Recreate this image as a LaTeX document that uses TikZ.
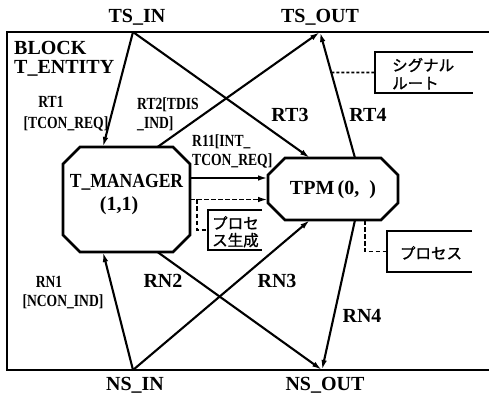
\documentclass[tikz,border=0pt]{standalone}
\usepackage{fontspec}
\setmainfont{Liberation Serif}
\newfontfamily\jp[FakeBold=1.2]{Noto Sans CJK JP}
\newfontfamily\condS[FakeStretch=0.8]{Liberation Serif}
\newfontfamily\condB[FakeStretch=0.88]{Liberation Serif}
\usetikzlibrary{arrows.meta,calc}
\begin{document}
\begin{tikzpicture}[x=1pt,y=-1pt,
  big/.style={font=\bfseries\fontsize{20}{22}\selectfont, inner sep=0pt},
  bigc/.style={font=\condB\bfseries\fontsize{20}{22}\selectfont, inner sep=0pt},
  small/.style={font=\condS\bfseries\fontsize{17}{19}\selectfont, inner sep=0pt},
  jtext/.style={font=\jp\fontsize{15.5}{18}\selectfont, inner sep=0pt},
  conn/.style={line width=2.1pt, -{Latex[length=10pt,width=5.5pt]}},
  frameline/.style={line width=1.5pt},
  oct/.style={line width=2.6pt, line join=miter},
  bracket/.style={line width=2.4pt},
  cdash/.style={line width=1.9pt, dash pattern=on 4.5pt off 2.5pt},
  dotline/.style={line width=1.8pt, dash pattern=on 3pt off 2pt},
  area/.style={inner sep=0pt, outer sep=0pt},
]
\useasboundingbox (0,0) rectangle (489,395);
\fill[white] (0,0) rectangle (489,395);

% block frame (open at the right)
\draw[frameline] (489,32) -- (7,32) -- (7,370) -- (489,370);

% gate points
\coordinate (tsin) at (133,32);
\coordinate (tsout) at (320,32);
\coordinate (nsin) at (133,370);
\coordinate (nsout) at (322,370);

% gate labels
\node[big, anchor=base] (tsinL) at (137,23) {TS\_IN};
\node[big, anchor=base] (tsoutL) at (320,23) {TS\_OUT};
\node[big, anchor=base] (nsinL) at (135,390) {NS\_IN};
\node[big, anchor=base] (nsoutL) at (325,390) {NS\_OUT};

% block title
\node[big, anchor=base west] (blk1) at (14,55) {BLOCK};
\node[big, anchor=base west] (blk2) at (14,74) {T\_ENTITY};

% T_MANAGER process
\node[area, minimum width=127pt, minimum height=105pt] (tm) at (126.5,199.5) {};
\draw[oct] ($(tm.north west)+(17,0)$) -- ($(tm.north east)+(-17,0)$) -- ($(tm.north east)+(0,17)$) -- ($(tm.south east)+(0,-17)$) -- ($(tm.south east)+(-17,0)$) -- ($(tm.south west)+(17,0)$) -- ($(tm.south west)+(0,-17)$) -- ($(tm.north west)+(0,17)$) -- cycle;
\node[bigc, anchor=base] (tmT) at (126.5,188) {T\_MANAGER};
\node[big, anchor=base] (tmN) at (119,211) {(1,1)};

% TPM process
\node[area, minimum width=130pt, minimum height=62pt] (tpm) at (333,189) {};
\draw[oct] ($(tpm.north west)+(17,0)$) -- ($(tpm.north east)+(-17,0)$) -- ($(tpm.north east)+(0,17)$) -- ($(tpm.south east)+(0,-17)$) -- ($(tpm.south east)+(-17,0)$) -- ($(tpm.south west)+(17,0)$) -- ($(tpm.south west)+(0,-17)$) -- ($(tpm.north west)+(0,17)$) -- cycle;
\node[big, anchor=base] (tpmT) at (333,195) {TPM\,(0,\hspace{10pt})};

% connection points
\coordinate (tmN1) at ($(tm.north)+(-23.5,0)$);
\coordinate (tmN2) at ($(tm.north)+(31,0)$);
\coordinate (tmS1) at ($(tm.south)+(-23.5,0)$);
\coordinate (tmS2) at ($(tm.south)+(31,0)$);
\coordinate (tmE1) at ($(tm.east)+(0,-21.5)$);
\coordinate (tpmN1) at ($(tpm.north)+(-23,0)$);
\coordinate (tpmN2) at ($(tpm.north)+(22,0)$);
\coordinate (tpmS1) at ($(tpm.south)+(-23,0)$);
\coordinate (tpmS2) at ($(tpm.south)+(22,0)$);
\coordinate (tpmS3) at ($(tpm.south)+(32,0)$);

% signal routes
\draw[conn] (tsin) -- (tmN1);
\draw[conn] (tmN2) -- (tsout);
\draw[conn] (tsin) -- (tpmN1);
\draw[conn] (tpmN2) -- coordinate[pos=0.678] (rt4c) (tsout);
\draw[conn] (nsin) -- (tmS1);
\draw[conn] (tmS2) -- (nsout);
\draw[conn] (nsin) -- (tpmS1);
\draw[conn] (tpmS2) -- (nsout);
\draw[conn] (tmE1) -- (tmE1 -| tpm.west);
\draw[conn, cdash] (tm.east) -- (tm.east -| tpm.west);

% route labels
\node[small, anchor=base] (rt1a) at (51,108) {RT1};
\node[small, anchor=base] (rt1b) at (66,129) {[TCON\_REQ]};
\node[small, anchor=base west] (rt2a) at (137,110) {RT2[TDIS};
\node[small, anchor=base west] (rt2b) at (137,129) {\_IND]};
\node[small, anchor=base west] (r11a) at (192,147) {R11[INT\_};
\node[small, anchor=base west] (r11b) at (192,166) {TCON\_REQ]};
\node[big, anchor=base] (rt3) at (290,122) {RT3};
\node[big, anchor=base] (rt4) at (368,122) {RT4};
\node[small, anchor=base] (rn1a) at (49,287) {RN1};
\node[small, anchor=base] (rn1b) at (63,306) {[NCON\_IND]};
\node[big, anchor=base] (rn2) at (163,287) {RN2};
\node[big, anchor=base] (rn3) at (277,287) {RN3};
\node[big, anchor=base] (rn4) at (362,322) {RN4};

% comment: process creation
\node[area, minimum width=54pt, minimum height=40pt] (pg) at (235,230) {};
\draw[bracket] (pg.north east) -- (pg.north west) -- (pg.south west) -- (pg.south east);
\node[jtext, anchor=base west] (pgT1) at (212,229) {プロセ};
\node[jtext, anchor=base west] (pgT2) at (212,246) {ス生成};
\draw[cdash] ($(tm.east)+(7,0)$) |- (pg.west);

% comment: signal route
\node[area, minimum width=98pt, minimum height=41pt] (sr) at (424,72.5) {};
\draw[bracket] (sr.north east) -- (sr.north west) -- (sr.south west) -- (sr.south east);
\node[jtext, anchor=base west] (srT1) at (392,71) {シグナル};
\node[jtext, anchor=base west] (srT2) at (392,89) {ルート};
\draw[dotline] (rt4c) -- (sr.west);

% comment: process
\node[area, minimum width=85pt, minimum height=41pt] (pr) at (429.5,251.5) {};
\draw[bracket] (pr.north east) -- (pr.north west) -- (pr.south west) -- (pr.south east);
\node[jtext, anchor=base] (prT) at (431,259) {プロセス};
\draw[cdash] (tpmS3) |- (pr.west);
\end{tikzpicture}
\end{document}
